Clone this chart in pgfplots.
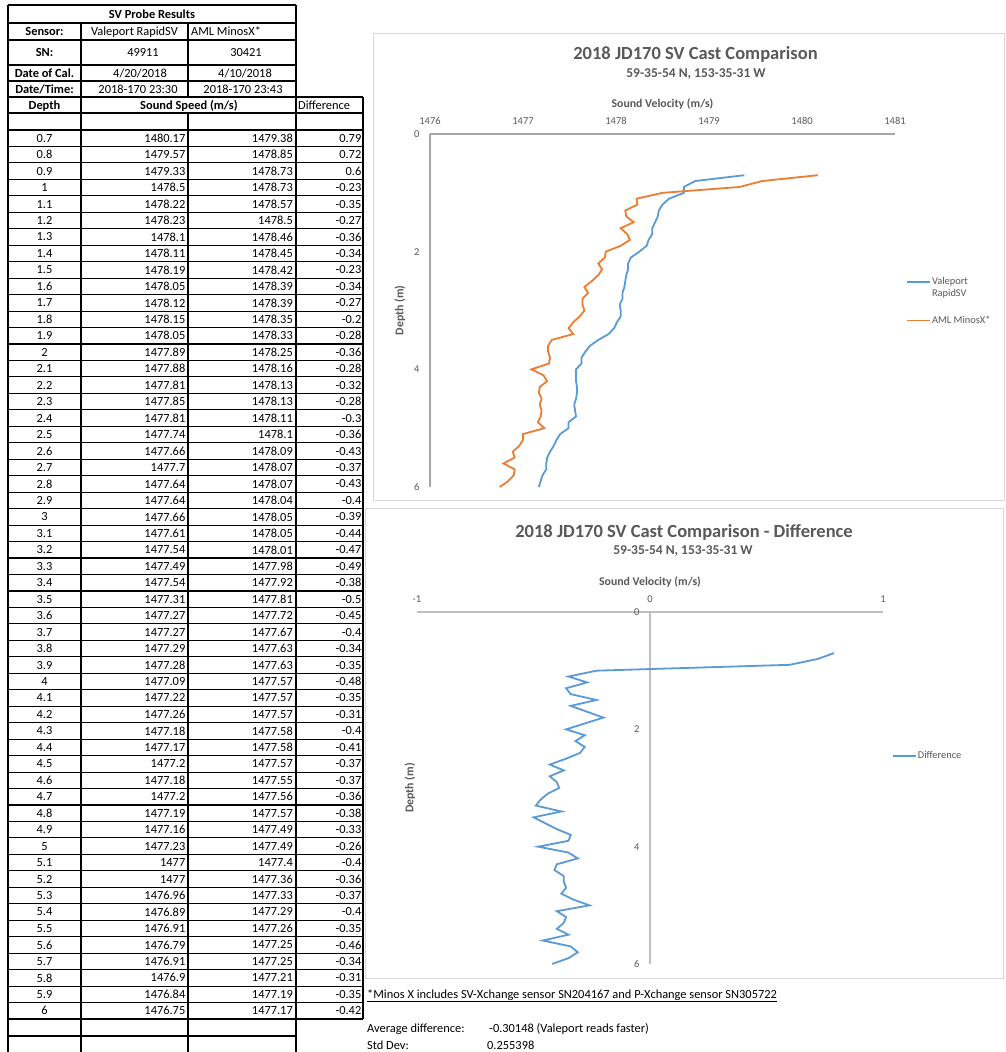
\documentclass[border=0pt]{standalone}
\usepackage{pgfplots}
\pgfplotsset{compat=1.18}
\usepackage{pgfplotstable}
\usepackage{fontspec}
\setmainfont{Carlito}
\definecolor{vblue}{HTML}{5B9BD5}
\definecolor{aorange}{HTML}{ED7D31}
\definecolor{txtgray}{HTML}{595959}
\definecolor{axgray}{HTML}{A6A6A6}
\definecolor{ax2gray}{HTML}{BFBFBF}
\definecolor{boxgray}{HTML}{D9D9D9}
\newcommand{\fs}[1]{\fontsize{#1}{#1}\selectfont}
\pgfplotsset{/pgf/number format/1000 sep={}, /pgf/number format/assume math mode=true}

\pgfplotstableread{
depth rapid minos diff
0.7 1480.17 1479.38 0.79
0.8 1479.57 1478.85 0.72
0.9 1479.33 1478.73 0.6
1 1478.5 1478.73 -0.23
1.1 1478.22 1478.57 -0.35
1.2 1478.23 1478.5 -0.27
1.3 1478.1 1478.46 -0.36
1.4 1478.11 1478.45 -0.34
1.5 1478.19 1478.42 -0.23
1.6 1478.05 1478.39 -0.34
1.7 1478.12 1478.39 -0.27
1.8 1478.15 1478.35 -0.2
1.9 1478.05 1478.33 -0.28
2 1477.89 1478.25 -0.36
2.1 1477.88 1478.16 -0.28
2.2 1477.81 1478.13 -0.32
2.3 1477.85 1478.13 -0.28
2.4 1477.81 1478.11 -0.3
2.5 1477.74 1478.1 -0.36
2.6 1477.66 1478.09 -0.43
2.7 1477.7 1478.07 -0.37
2.8 1477.64 1478.07 -0.43
2.9 1477.64 1478.04 -0.4
3 1477.66 1478.05 -0.39
3.1 1477.61 1478.05 -0.44
3.2 1477.54 1478.01 -0.47
3.3 1477.49 1477.98 -0.49
3.4 1477.54 1477.92 -0.38
3.5 1477.31 1477.81 -0.5
3.6 1477.27 1477.72 -0.45
3.7 1477.27 1477.67 -0.4
3.8 1477.29 1477.63 -0.34
3.9 1477.28 1477.63 -0.35
4 1477.09 1477.57 -0.48
4.1 1477.22 1477.57 -0.35
4.2 1477.26 1477.57 -0.31
4.3 1477.18 1477.58 -0.4
4.4 1477.17 1477.58 -0.41
4.5 1477.2 1477.57 -0.37
4.6 1477.18 1477.55 -0.37
4.7 1477.2 1477.56 -0.36
4.8 1477.19 1477.57 -0.38
4.9 1477.16 1477.49 -0.33
5 1477.23 1477.49 -0.26
5.1 1477 1477.4 -0.4
5.2 1477 1477.36 -0.36
5.3 1476.96 1477.33 -0.37
5.4 1476.89 1477.29 -0.4
5.5 1476.91 1477.26 -0.35
5.6 1476.79 1477.25 -0.46
5.7 1476.91 1477.25 -0.34
5.8 1476.9 1477.21 -0.31
5.9 1476.84 1477.19 -0.35
6 1476.75 1477.17 -0.42
}\svdata

\begin{document}
\begin{tikzpicture}[x=1pt,y=-1pt]
\path[use as bounding box] (0,0) rectangle (1005,1052);
\fill[white] (0,0) rectangle (1005,1052);
% chart frames
\draw[boxgray, line width=1pt] (373.5,33.5) rectangle (1004,500);
\draw[boxgray, line width=1pt] (365.5,508) rectangle (1003,978);
% table grid
\begin{scope}[line width=1.1pt, black]
 \draw (8,5) -- (296,5);
 \foreach \y in {23,40,65,81} \draw (8,\y) -- (296,\y);
 \foreach \y in {97,113} \draw (8,\y) -- (363,\y);
 \foreach \k in {0,...,54} \draw (8,{130+16.463*\k}) -- (363,{130+16.463*\k});
 \draw (8,1036) -- (296,1036);
 \draw (8,5) -- (8,1052);
 \draw (81,23) -- (81,1052);
 \draw (188,23) -- (188,97);
 \draw (188,113) -- (188,1052);
 \draw (296,5) -- (296,1052);
 \draw (363,97) -- (363,1019);
\end{scope}
% table header text
\begin{scope}[every node/.style={anchor=base, yshift=-4pt, inner sep=0pt, text=black}]
 \node[font=\fs{12.4}\bfseries] at (152,14) {SV Probe Results};
 \node[font=\fs{12.4}\bfseries] at (44.5,31.5) {Sensor:};
 \node[font=\fs{12.4}] at (134.5,31.5) {Valeport RapidSV};
 \node[font=\fs{12.4}, anchor=base west] at (191,31.5) {AML MinosX*};
 \node[font=\fs{12.4}\bfseries] at (44.5,52.5) {SN:};
 \node[font=\fs{12.4}] at (143,52.5) {49911};
 \node[font=\fs{12.4}] at (246,52.5) {30421};
 \node[font=\fs{12.4}\bfseries] at (44.5,73) {Date of Cal.};
 \node[font=\fs{12.4}] at (140,73) {4/20/2018};
 \node[font=\fs{12.4}] at (245,73) {4/10/2018};
 \node[font=\fs{12.4}\bfseries] at (44.5,89) {Date/Time:};
 \node[font=\fs{12.4}] at (138,89) {2018-170 23:30};
 \node[font=\fs{12.4}] at (243,89) {2018-170 23:43};
 \node[font=\fs{12.4}\bfseries] at (44.5,105) {Depth};
 \node[font=\fs{12.4}\bfseries] at (189,105) {Sound Speed (m/s)};
 \node[font=\fs{12.4}, anchor=base west] at (298,105) {Difference};
\end{scope}
% table body values
\begin{axis}[at={(8pt,-130pt)}, anchor=north west, scale only axis,
  width=355pt, height=889pt, xmin=8, xmax=363, ymin=0.65, ymax=6.05,
  y dir=reverse, hide axis, clip=false,
  nodes near coords, point meta=explicit symbolic,
  every node near coord/.append style={font=\fs{12.4}, inner sep=0pt, text=black}]
 \addplot[only marks, mark=none, every node near coord/.append style={anchor=center}]
   table[x expr=44.5, y=depth, meta=depth] {\svdata};
 \addplot[only marks, mark=none, every node near coord/.append style={anchor=east}]
   table[x expr=185.5, y=depth, meta=rapid] {\svdata};
 \addplot[only marks, mark=none, every node near coord/.append style={anchor=east}]
   table[x expr=293, y=depth, meta=minos] {\svdata};
 \addplot[only marks, mark=none, every node near coord/.append style={anchor=east}]
   table[x expr=361.5, y=depth, meta=diff] {\svdata};
\end{axis}
% chart 1 titles
\node[font=\fs{18.5}\bfseries, text=txtgray, anchor=base] at (695.5,59) {2018 JD170 SV Cast Comparison};
\node[font=\fs{13.5}\bfseries, text=txtgray, anchor=base] at (696,77.3) {59-35-54 N, 153-35-31 W};
% chart 1
\begin{axis}[at={(430pt,-134pt)}, anchor=north west, scale only axis,
  width=465pt, height=353pt,
  xmin=1476, xmax=1481, ymin=0, ymax=6, y dir=reverse,
  axis x line*=top, axis y line*=left,
  xtick={1476,1477,1478,1479,1480,1481}, ytick={0,2,4,6},
  major tick length=0pt,
  axis line style={axgray, line width=2.2pt},
  tick label style={font=\fs{10.5}, text=txtgray},
  xticklabel style={yshift=6pt},
  yticklabel style={xshift=-7pt},
  xlabel={Sound Velocity (m/s)},
  xlabel style={font=\fs{11.8}\bfseries, text=txtgray, at={(axis description cs:0.5,1)}, anchor=center, yshift=30pt},
  ylabel={Depth (m)},
  ylabel style={font=\fs{11.8}\bfseries, text=txtgray, at={(axis description cs:0,0.5)}, anchor=center, yshift=30pt},
  legend style={draw=none, fill=none, at={(axis description cs:1.0237,0.597)}, anchor=north west,
    font=\fontsize{10.4}{11.5}\selectfont, text=txtgray, inner sep=0pt, row sep=28pt,
    cells={anchor=base west}, nodes={inner sep=1pt}},
  clip=false]
 \addplot[vblue, line width=1.8pt,
   legend image code/.code={\path (0pt,0pt); \draw[vblue, line width=1.8pt] (0pt,3pt) -- (23pt,3pt);}]
   table[x=minos, y=depth] {\svdata};
 \addlegendentry{\parbox[t]{60pt}{Valeport\par RapidSV}}
 \addplot[aorange, line width=1.8pt,
   legend image code/.code={\path (0pt,0pt); \draw[aorange, line width=1.8pt] (0pt,3pt) -- (23pt,3pt);}]
   table[x=rapid, y=depth] {\svdata};
 \addlegendentry{AML MinosX*}
\end{axis}
% chart 2 titles
\node[font=\fs{18.5}\bfseries, text=txtgray, anchor=base] at (684,537) {2018 JD170 SV Cast Comparison - Difference};
\node[font=\fs{13.5}\bfseries, text=txtgray, anchor=base] at (683,554.3) {59-35-54 N, 153-35-31 W};
% chart 2
\begin{axis}[at={(417pt,-612pt)}, anchor=north west, scale only axis,
  width=466pt, height=352pt,
  xmin=-1, xmax=1, ymin=0, ymax=6, y dir=reverse,
  axis x line*=top, axis y line*=middle,
  hide obscured y ticks=false,
  xtick={-1,0,1}, xticklabels={-1,0,1}, ytick={0,2,4,6},
  major tick length=0pt,
  axis line style={ax2gray, line width=1.6pt},
  tick label style={font=\fs{10.5}, text=txtgray},
  xticklabel style={yshift=6pt},
  yticklabel style={xshift=-7pt},
  xlabel={Sound Velocity (m/s)},
  xlabel style={font=\fs{11.8}\bfseries, text=txtgray, at={(axis description cs:0.5,1)}, anchor=center, yshift=30pt},
  ylabel={Depth (m)},
  ylabel style={font=\fs{11.8}\bfseries, text=txtgray, at={(axis description cs:0,0.5)}, anchor=center, yshift=7pt},
  legend style={draw=none, fill=none, at={(axis description cs:1.019,0.591)}, anchor=west,
    font=\fs{10.4}, text=txtgray, inner sep=0pt, nodes={inner sep=1pt}},
  legend cell align=left,
  legend image code/.code={\draw[vblue, line width=1.8pt] (0pt,0pt) -- (23pt,0pt);},
  clip=false]
 \addplot[vblue, line width=1.8pt] table[x=diff, y=depth] {\svdata};
 \addlegendentry{Difference}
\end{axis}
% notes
\node[font=\fs{12.4}, text=black, anchor=base west, inner sep=0pt] at (367,998) {\underline{*Minos X includes SV-Xchange sensor SN204167 and P-Xchange sensor SN305722}};
\node[font=\fs{12.4}, text=black, anchor=base west, inner sep=0pt] at (367,1032) {Average difference:};
\node[font=\fs{12.4}, text=black, anchor=base west, inner sep=0pt] at (489,1032) {-0.30148 (Valeport reads faster)};
\node[font=\fs{12.4}, text=black, anchor=base west, inner sep=0pt] at (367,1049) {Std Dev:};
\node[font=\fs{12.4}, text=black, anchor=base west, inner sep=0pt] at (487,1049) {0.255398};
\end{tikzpicture}
\end{document}
